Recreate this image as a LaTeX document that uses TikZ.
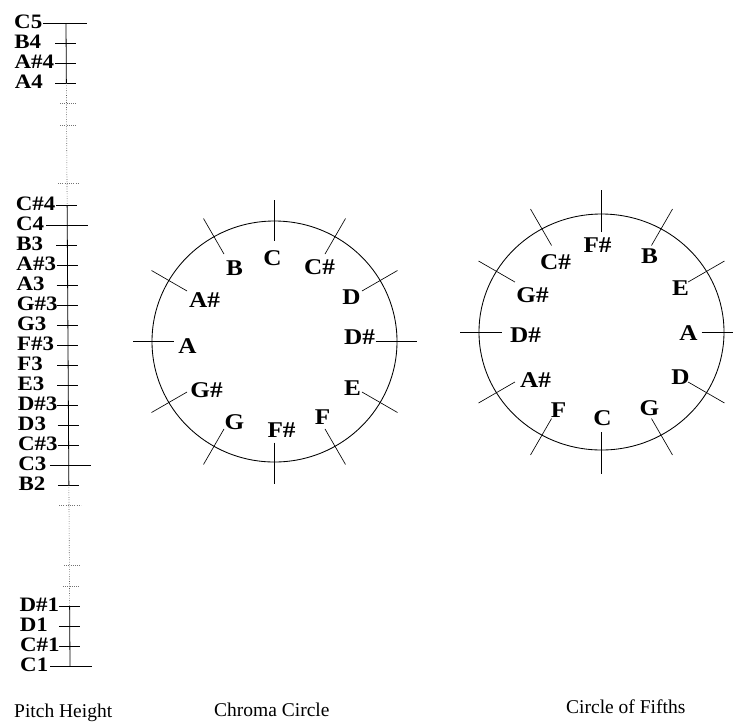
\documentclass[tikz,border=0pt]{standalone}
\usepackage{fontspec}
\setmainfont{Liberation Serif}
\newfontfamily\notefont{Liberation Serif}[FakeStretch=1.12]
\usetikzlibrary{calc}
\begin{document}
\begin{tikzpicture}[x=1pt,y=-1pt,
  axisline/.style={line width=0.8pt},
  gapline/.style={line width=0.6pt, dash pattern=on 0.8pt off 1.6pt, black!65},
  gaptick/.style={line width=0.5pt, dash pattern=on 0.8pt off 1.4pt, black!55},
  tickmark/.style={line width=0.65pt},
  axislabel/.style={anchor=base west, inner sep=0pt, font=\notefont\bfseries\fontsize{20.5}{20.5}\selectfont},
  notelabel/.style={inner sep=0pt, font=\notefont\bfseries\fontsize{22.5}{22.5}\selectfont},
  caption/.style={anchor=base west, inner sep=0pt, font=\fontsize{19.5}{19.5}\selectfont},
  ring/.style={line width=0.85pt}]
\useasboundingbox (0,0) rectangle (733,724);

% ---------------- pitch height axis ----------------
% name / label / y / half-length of tick on left / right
\foreach \n/\t/\y/\l/\r in {
  C5/C5/23/23/21, B4/B4/43/11/10, As4/A\#4/63/11/10, A4/A4/83/11/10,
  Cs4/C\#4/205/11/10, C4/C4/225/21/21, B3/B3/245/11/10, As3/A\#3/265/11/10,
  A3/A3/285/11/10, Gs3/G\#3/305/11/10, G3/G3/325/11/10, Fs3/F\#3/345/11/10,
  F3/F3/365/11/10, E3/E3/385/11/10, Ds3/D\#3/405/11/10, D3/D3/425/11/10,
  Cs3/C\#3/445/11/10, C3/C3/465/19/22, B2/B2/485/11/10,
  Ds1/D\#1/606/11/10, D1/D1/626/11/10, Cs1/C\#1/646/11/10, C1/C1/666/20/22}{
  \pgfmathsetmacro\ax{66+4*(\y-23)/643}
  \pgfmathsetmacro\lx{14+6*(\y-23)/643}
  \coordinate (a\n) at (\ax,\y);
  \draw[tickmark] ($(a\n)+(-\l,0)$) -- ($(a\n)+(\r,0)$);
  \node[axislabel] (l\n) at (\lx,\y+5.5) {\t};
}
\draw[axisline] (aC5) -- (aA4);
\draw[gapline] (aA4) -- (aCs4);
\draw[axisline] (aCs4) -- (aB2);
\draw[gapline] (aB2) -- (aDs1);
\draw[axisline] (aDs1) -- (aC1);

% faint marks inside the skipped ranges
\draw[gaptick] (60,103) -- (76,103);
\draw[gaptick] (60,125) -- (76,125);
\draw[gaptick] (58,183) -- (79,183);
\draw[gaptick] (59,505) -- (81,505);
\draw[gaptick] (64,565) -- (80,565);
\draw[gaptick] (63,586) -- (79,586);

% ---------------- chroma circle ----------------
\coordinate (chroma) at (274.5,341.5);
\draw[ring] (chroma) ellipse[x radius=122.5, y radius=120.5];
\foreach \a in {0,30,...,330}
  \draw[tickmark] ($(chroma)+(\a:101)$) -- ($(chroma)+(\a:142)$);
\foreach \n/\t/\dx/\dy in {
  C/C/-2/-83, Cs/C\#/45/-74, D/D/77/-44, Ds/D\#/85/-4, E/E/78/47, F/F/48/76,
  Fs/F\#/7/89, G/G/-40/81, Gs/G\#/-68/49, A/A/-87/5, As/A\#/-70/-41, B/B/-40/-73}
  \node[notelabel] (c\n) at ($(chroma)+(\dx,\dy)$) {\t};

% ---------------- circle of fifths ----------------
\coordinate (fifths) at (601.5,332);
\draw[ring] (fifths) ellipse[x radius=122.5, y radius=118];
\foreach \a in {0,30,...,330}
  \draw[tickmark] ($(fifths)+(\a:100)$) -- ($(fifths)+(\a:142)$);
\foreach \n/\t/\dx/\dy in {
  Fs/F\#/-4/-87, B/B/48/-76, E/E/79/-44, A/A/87/1, D/D/79/45, G/G/48/76,
  C/C/1/86, F/F/-43/78, As/A\#/-66/48, Ds/D\#/-76/3, Gs/G\#/-69/-37, Cs/C\#/-46/-70}
  \node[notelabel] (f\n) at ($(fifths)+(\dx,\dy)$) {\t};

% ---------------- captions ----------------
\node[caption] (capPitch) at (14,717) {Pitch Height};
\node[caption] (capChroma) at (214,716) {Chroma Circle};
\node[caption] (capFifths) at (566,713) {Circle of Fifths};
\end{tikzpicture}
\end{document}
